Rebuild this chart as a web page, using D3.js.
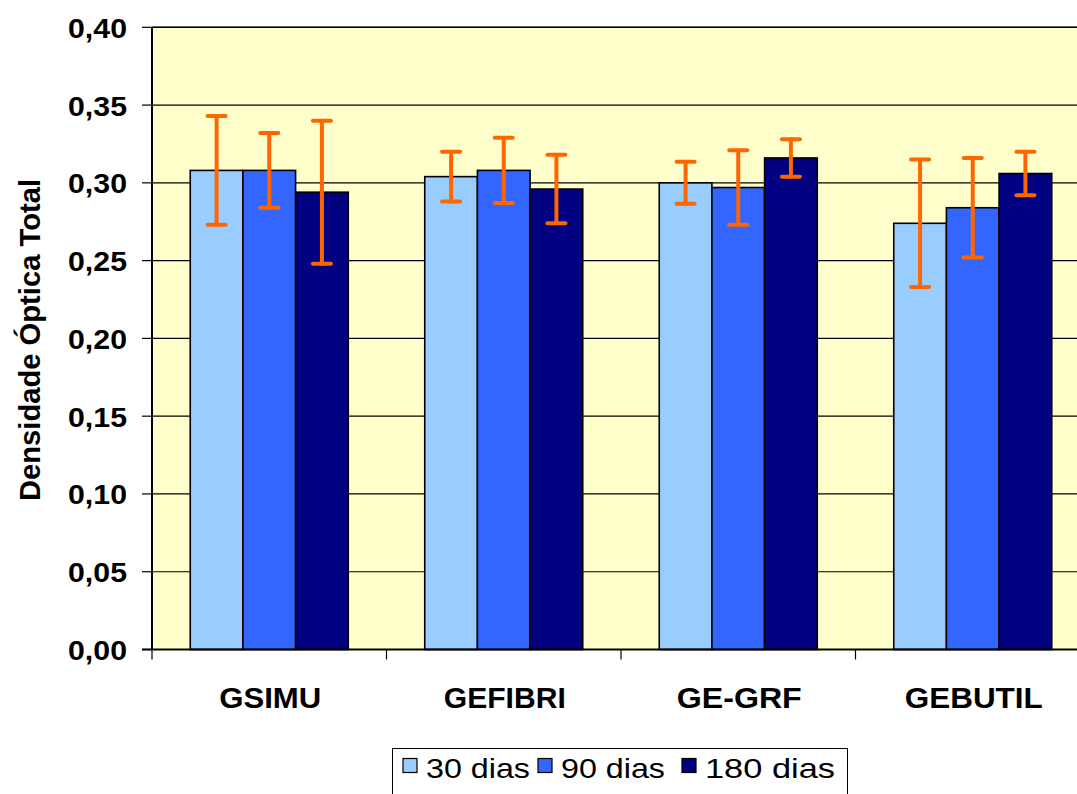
<!DOCTYPE html>
<html><head><meta charset="utf-8">
<script src="https://cdnjs.cloudflare.com/ajax/libs/d3/7.8.5/d3.min.js"></script>
<style>html,body{margin:0;padding:0;background:#fff;overflow:hidden}svg{display:block}text{font-family:"Liberation Sans",Arial,sans-serif}</style>
</head><body><svg id="c" width="1077" height="794"></svg>
<script>
const categories = ["GSIMU", "GEFIBRI", "GE-GRF", "GEBUTIL"];
const seriesNames = ["30 dias", "90 dias", "180 dias"];
const values30 = [0.308, 0.304, 0.300, 0.274];
const values90 = [0.308, 0.308, 0.297, 0.284];
const values180 = [0.294, 0.296, 0.316, 0.306];
const err30 = [0.035, 0.016, 0.0135, 0.041];
const err90 = [0.024, 0.021, 0.024, 0.032];
const err180 = [0.046, 0.022, 0.012, 0.014];
const yTickValues = [0, 0.05, 0.10, 0.15, 0.20, 0.25, 0.30, 0.35, 0.40];
const colors = ["#99CCFF", "#3366FF", "#000080"];

const seriesVals = [values30, values90, values180];
const seriesErr = [err30, err90, err180];

const svg = d3.select("#c");
const L = 152, T = 27.3, B = 649.5, R = 1090;

const x = d3.scaleBand().domain(categories).range([L, R]).padding(0);
const xi = d3.scaleBand().domain(seriesNames).range([38.25, 196.25]).padding(0);
const y = d3.scaleLinear().domain([0, 0.4]).range([B, T]);

// plot background
svg.append("rect").attr("x", L).attr("y", T).attr("width", R - L).attr("height", B - T).attr("fill", "#FFFFCC");

// gridlines
svg.append("g").selectAll("line").data(yTickValues.filter(d => d > 0)).join("line")
  .attr("x1", L).attr("x2", R).attr("y1", d => y(d)).attr("y2", d => y(d))
  .attr("stroke", "#000").attr("stroke-width", 1.2);

// bars
const rows = [];
categories.forEach((c, i) => seriesNames.forEach((s, j) => rows.push({c, s, j, v: seriesVals[j][i], e: seriesErr[j][i]})));

svg.append("g").selectAll("rect").data(rows).join("rect")
  .attr("x", d => x(d.c) + xi(d.s))
  .attr("y", d => y(d.v))
  .attr("width", xi.bandwidth())
  .attr("height", d => B - y(d.v))
  .attr("fill", d => colors[d.j])
  .attr("stroke", "#000").attr("stroke-width", 1.6);

// error bars
const eg = svg.append("g").attr("stroke", "#FF6600").attr("stroke-width", 4).attr("stroke-linecap", "round");
rows.forEach(d => {
  const cx = x(d.c) + xi(d.s) + xi.bandwidth() / 2;
  const y1 = y(d.v + d.e), y2 = y(d.v - d.e);
  eg.append("line").attr("x1", cx).attr("x2", cx).attr("y1", y1).attr("y2", y2);
  eg.append("line").attr("x1", cx - 9).attr("x2", cx + 9).attr("y1", y1).attr("y2", y1);
  eg.append("line").attr("x1", cx - 9).attr("x2", cx + 9).attr("y1", y2).attr("y2", y2);
});

// axes lines
svg.append("line").attr("x1", L).attr("x2", R).attr("y1", T).attr("y2", T).attr("stroke", "#000").attr("stroke-width", 1.5);
svg.append("line").attr("x1", L).attr("x2", L).attr("y1", T).attr("y2", B).attr("stroke", "#000").attr("stroke-width", 2);
svg.append("line").attr("x1", L - 10).attr("x2", R).attr("y1", B).attr("y2", B).attr("stroke", "#000").attr("stroke-width", 2);

// y ticks
const yg = svg.append("g");
yg.selectAll("line").data(yTickValues).join("line")
  .attr("x1", L - 10).attr("x2", L).attr("y1", d => y(d)).attr("y2", d => y(d))
  .attr("stroke", "#000").attr("stroke-width", 1.2);
yg.selectAll("text").data(yTickValues).join("text")
  .attr("x", 127).attr("y", d => y(d) + 10.5)
  .attr("text-anchor", "end").attr("font-size", 27).attr("font-weight", "bold")
  .attr("textLength", 59).attr("lengthAdjust", "spacingAndGlyphs")
  .text(d => d3.format(".2f")(d).replace(".", ","));

// x ticks
const boundaries = categories.map(c => x(c));
svg.append("g").selectAll("line").data(boundaries).join("line")
  .attr("x1", d => d).attr("x2", d => d).attr("y1", B).attr("y2", B + 10)
  .attr("stroke", "#000").attr("stroke-width", 1.2);

const catWidths = [102, 122, 125, 138];
svg.append("g").selectAll("text").data(categories).join("text")
  .attr("x", d => x(d) + x.bandwidth() / 2 + 1).attr("y", 708)
  .attr("text-anchor", "middle").attr("font-size", 29).attr("font-weight", "bold")
  .attr("textLength", (d, i) => catWidths[i]).attr("lengthAdjust", "spacingAndGlyphs")
  .text(d => d);

// y axis title
svg.append("text")
  .attr("transform", "translate(40,340) rotate(-90)")
  .attr("text-anchor", "middle").attr("font-size", 29).attr("font-weight", "bold")
  .attr("textLength", 322).attr("lengthAdjust", "spacingAndGlyphs")
  .text("Densidade Óptica Total");

// legend
const lg = svg.append("g");
lg.append("rect").attr("x", 392.5).attr("y", 748.5).attr("width", 455).attr("height", 60)
  .attr("fill", "#fff").attr("stroke", "#000").attr("stroke-width", 1);
const legX = [403, 538, 682];
const legTW = [104, 104, 130];
seriesNames.forEach((s, j) => {
  lg.append("rect").attr("x", legX[j]).attr("y", 758.5).attr("width", 14).attr("height", 14)
    .attr("fill", colors[j]).attr("stroke", "#000").attr("stroke-width", 1.2);
  lg.append("text").attr("x", legX[j] + 23).attr("y", 778).attr("font-size", 28)
    .attr("textLength", legTW[j]).attr("lengthAdjust", "spacingAndGlyphs").text(s);
});
</script></body></html>
